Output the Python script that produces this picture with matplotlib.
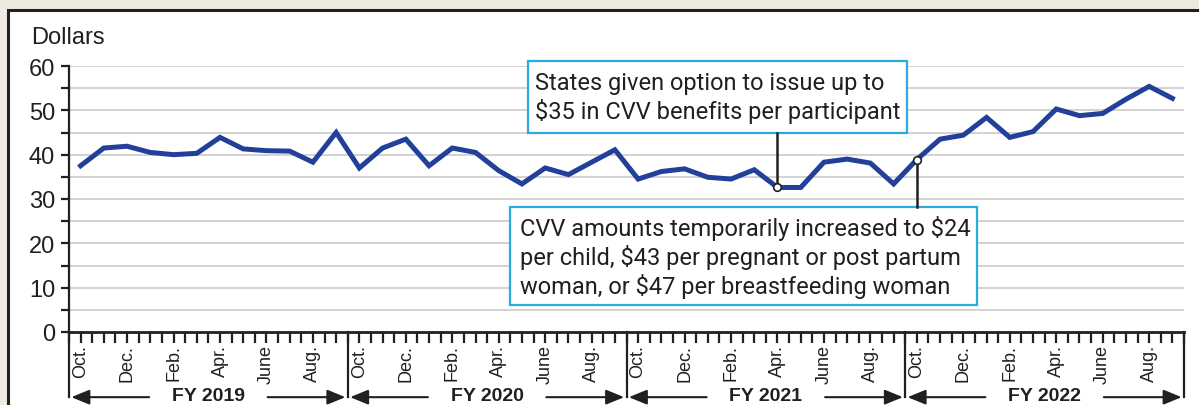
import matplotlib.pyplot as plt
from matplotlib.patches import Rectangle
from matplotlib.transforms import blended_transform_factory

# monthly average CVV benefit, Oct. FY2019 .. Sep. FY2022
fy2019 = [37.5, 41.5, 41.9, 40.5, 40.0, 40.3, 43.9, 41.3, 40.9, 40.8, 38.3, 45.0]
fy2020 = [37.0, 41.5, 43.5, 37.5, 41.5, 40.5, 36.4, 33.4, 37.0, 35.5, 38.3, 41.1]
fy2021 = [34.5, 36.2, 36.8, 34.9, 34.5, 36.6, 32.6, 32.6, 38.3, 39.0, 38.1, 33.4]
fy2022 = [38.9, 43.5, 44.4, 48.4, 43.9, 45.2, 50.3, 48.8, 49.3, 52.5, 55.4, 52.7]
fiscal_years = ['FY 2019', 'FY 2020', 'FY 2021', 'FY 2022']
month_labels = ['Oct.', 'Dec.', 'Feb.', 'Apr.', 'June', 'Aug.']

values = fy2019 + fy2020 + fy2021 + fy2022
xs = [i + 0.5 for i in range(len(values))]

note1 = 'States given option to issue up to\n$35 in CVV benefits per participant'
note2 = ('CVV amounts temporarily increased to $24\n'
         'per child, $43 per pregnant or post partum\n'
         'woman, or $47 per breastfeeding woman')
note1_idx = 30   # Apr. FY2021
note2_idx = 36   # Oct. FY2022

plt.rcParams['font.family'] = ['Liberation Sans', 'DejaVu Sans']
ink = '#231f20'

W, H = 1199, 406
fig = plt.figure(figsize=(W / 100, H / 100), dpi=100)
fig.patch.set_facecolor('#eeeae0')
panel = Rectangle((8 / W, -0.1), 1.2, 1.1 - 11 / H, transform=fig.transFigure,
                  facecolor='white', edgecolor=ink, lw=2.2, zorder=-10)
fig.add_artist(panel)

ax = fig.add_axes([69 / W, 73 / H, (1184 - 69) / W, 266 / H])
ax.set_facecolor('none')
ax.set_xlim(0, 48)
ax.set_ylim(0, 60)

for s in ['top', 'right']:
    ax.spines[s].set_visible(False)
ax.spines['left'].set_linewidth(1.6)
ax.spines['bottom'].set_linewidth(2)
ax.spines['left'].set_color(ink)
ax.spines['bottom'].set_color(ink)

ax.set_yticks(range(0, 61, 10))
ax.set_yticks(range(5, 60, 10), minor=True)
for y in range(5, 61, 5):
    ax.axhline(y, color='#cfcfcf', lw=1.3, zorder=1)
ax.tick_params(axis='y', which='both', length=6, width=1.6, color=ink,
               labelsize=17, pad=4, labelcolor=ink)

ax.set_xticks([i * 0.5 for i in range(97)], minor=True)
major = [i + 0.5 for i in range(0, 48, 2)]
ax.set_xticks(major)
ax.set_xticklabels(month_labels * 4)
ax.tick_params(axis='x', which='both', length=8, width=1.6, color=ink, pad=1,
               labelsize=13, labelcolor=ink, labelrotation=90)
for lab in ax.get_xticklabels():
    lab.set_va('top')
    lab.set_ha('center')

ax.plot(xs, values, color='#22409a', lw=3.6, zorder=3, solid_joinstyle='miter')

# fiscal year separators and arrows
trans = blended_transform_factory(ax.transData, ax.transAxes)
for k in range(5):
    ax.plot([12 * k, 12 * k], [0, -0.245], transform=trans, color=ink,
            lw=1.6, clip_on=False)
for k, fy in enumerate(fiscal_years):
    c = 12 * k + 6
    ax.text(c, -0.24, fy, transform=trans, ha='center', va='center',
            fontsize=14, fontweight='bold', color=ink)
    for a, b in [(c - 2.55, 12 * k + 0.1), (c + 2.55, 12 * k + 11.9)]:
        ax.annotate('', xy=(b, -0.245), xytext=(a, -0.245), xycoords=trans, textcoords=trans,
                    arrowprops=dict(arrowstyle='-|>,head_length=1.1,head_width=0.45',
                                    color=ink, lw=1.5, shrinkA=0, shrinkB=0),
                    annotation_clip=False)

# annotation boxes
box_color = '#2aabe2'
ax.add_patch(Rectangle((19.74, 44.9), 36.09 - 19.74, 61.1 - 44.9, facecolor='white',
                       edgecolor=box_color, lw=1.6, zorder=4, clip_on=False))
ax.text(20.05, 53.0, note1, ha='left', va='center', fontsize=17, family='Roboto',
        color=ink, linespacing=1.2, zorder=5)
ax.plot([xs[note1_idx]] * 2, [44.9, values[note1_idx]], color=ink, lw=1.8, zorder=4)
ax.plot(xs[note1_idx], values[note1_idx], 'o', ms=5.5, mfc='white', mec=ink,
        mew=1.2, zorder=6)

ax.add_patch(Rectangle((18.97, 6.1), 39.1 - 18.97, 28.2 - 6.1, facecolor='white',
                       edgecolor=box_color, lw=1.6, zorder=4))
ax.text(19.4, 17.0, note2, ha='left', va='center', fontsize=17, family='Roboto',
        color=ink, linespacing=1.2, zorder=5)
ax.plot([xs[note2_idx]] * 2, [28.2, values[note2_idx]], color=ink, lw=1.8, zorder=4)
ax.plot(xs[note2_idx], values[note2_idx], 'o', ms=5.5, mfc='white', mec=ink,
        mew=1.2, zorder=6)

fig.text(31 / W, 1 - 38 / H, 'Dollars', ha='left', va='center', fontsize=17, color=ink)

plt.savefig('out.png', dpi=100, facecolor=fig.get_facecolor())
